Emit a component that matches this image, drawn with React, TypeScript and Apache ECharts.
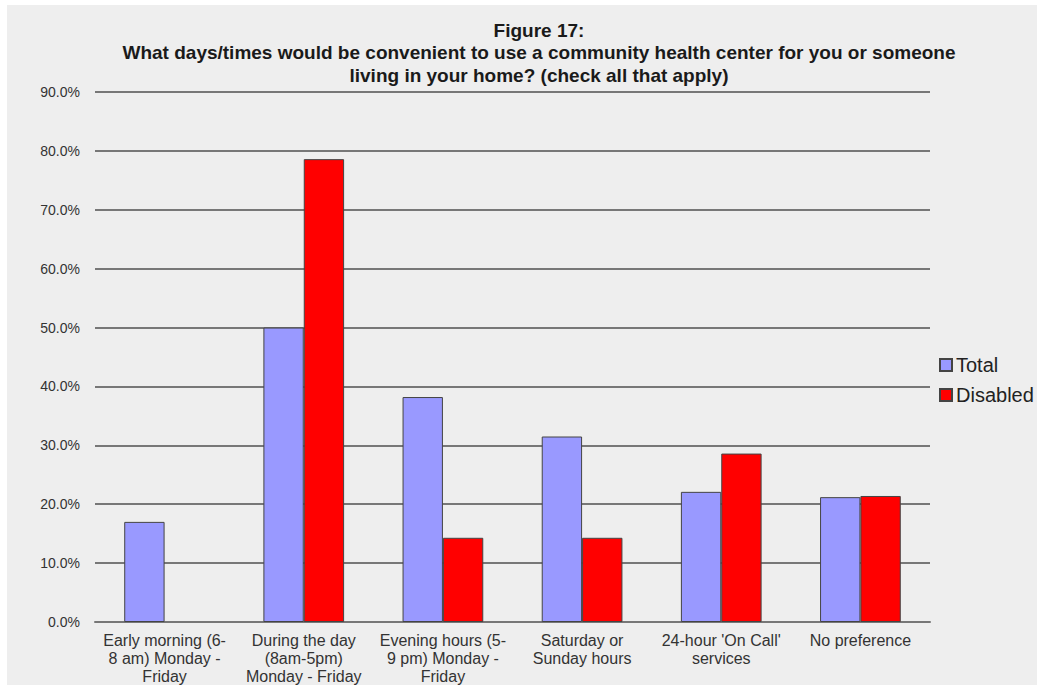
import React, { useEffect, useRef } from "react";
import * as echarts from "echarts";

const categories = [
  "Early morning (6-\n8 am) Monday -\nFriday",
  "During the day\n(8am-5pm)\nMonday - Friday",
  "Evening hours (5-\n9 pm) Monday -\nFriday",
  "Saturday or\nSunday hours",
  "24-hour 'On Call'\nservices",
  "No preference",
];
const totalValues = [17.0, 50.0, 38.2, 31.5, 22.1, 21.2];
const disabledValues: (number | null)[] = [null, 78.6, 14.3, 14.3, 28.6, 21.4];
const titleLines = [
  "Figure 17:",
  "What days/times would be convenient to use a community health center for you or someone",
  "living in your home? (check all that apply)",
];

export default function App() {
  const ref = useRef<HTMLDivElement>(null);
  useEffect(() => {
    if (!ref.current) return;
    const chart = echarts.init(ref.current, null, { renderer: "svg" });
    const font = "Liberation Sans, Arial, sans-serif";
    chart.setOption({
      animation: false,
      backgroundColor: "#ffffff",
      graphic: [
        {
          type: "rect",
          left: 7,
          top: 5,
          z: -10,
          silent: true,
          shape: { width: 1030, height: 680 },
          style: { fill: "#eeeeee" },
        },
      ],
      title: {
        text: titleLines.join("\n"),
        left: 534,
        top: 14,
        textAlign: "center",
        textStyle: {
          fontFamily: font,
          fontSize: 19,
          fontWeight: "bold",
          color: "#1a1a1a",
          lineHeight: 22.5,
        },
      },
      legend: {
        orient: "vertical",
        left: 934,
        top: 350,
        itemWidth: 12,
        itemHeight: 12,
        itemGap: 10,
        icon: "rect",
        textStyle: { fontFamily: font, fontSize: 20, color: "#222", padding: [0, 0, 0, -1] },
        data: ["Total", "Disabled"],
      },
      grid: { left: 95, right: 107, top: 92, bottom: 63, containLabel: false },
      xAxis: {
        type: "category",
        data: categories,
        axisLine: { lineStyle: { color: "#777", width: 2 } },
        axisTick: { show: false },
        axisLabel: {
          interval: 0,
          fontFamily: font,
          fontSize: 16,
          color: "#333",
          lineHeight: 18,
          margin: 9,
        },
      },
      yAxis: {
        type: "value",
        min: 0,
        max: 90,
        interval: 10,
        axisLine: { show: false },
        axisTick: { show: false },
        axisLabel: {
          fontFamily: font,
          fontSize: 14,
          color: "#333",
          margin: 15,
          formatter: (v: number) => v.toFixed(1) + "%",
        },
        splitLine: { lineStyle: { color: "#777", width: 2 } },
      },
      series: [
        {
          name: "Total",
          type: "bar",
          data: totalValues,
          barGap: "0%",
          barCategoryGap: "42%",
          itemStyle: { color: "#9999ff", borderColor: "#444", borderWidth: 1 },
        },
        {
          name: "Disabled",
          type: "bar",
          data: disabledValues,
          barGap: "0%",
          barCategoryGap: "42%",
          itemStyle: { color: "#ff0000", borderColor: "#444", borderWidth: 1 },
        },
      ],
    });
    return () => chart.dispose();
  }, []);
  return (
    <div
      ref={ref}
      style={{ position: "fixed", left: 0, top: 0, width: 1037, height: 685 }}
    />
  );
}
